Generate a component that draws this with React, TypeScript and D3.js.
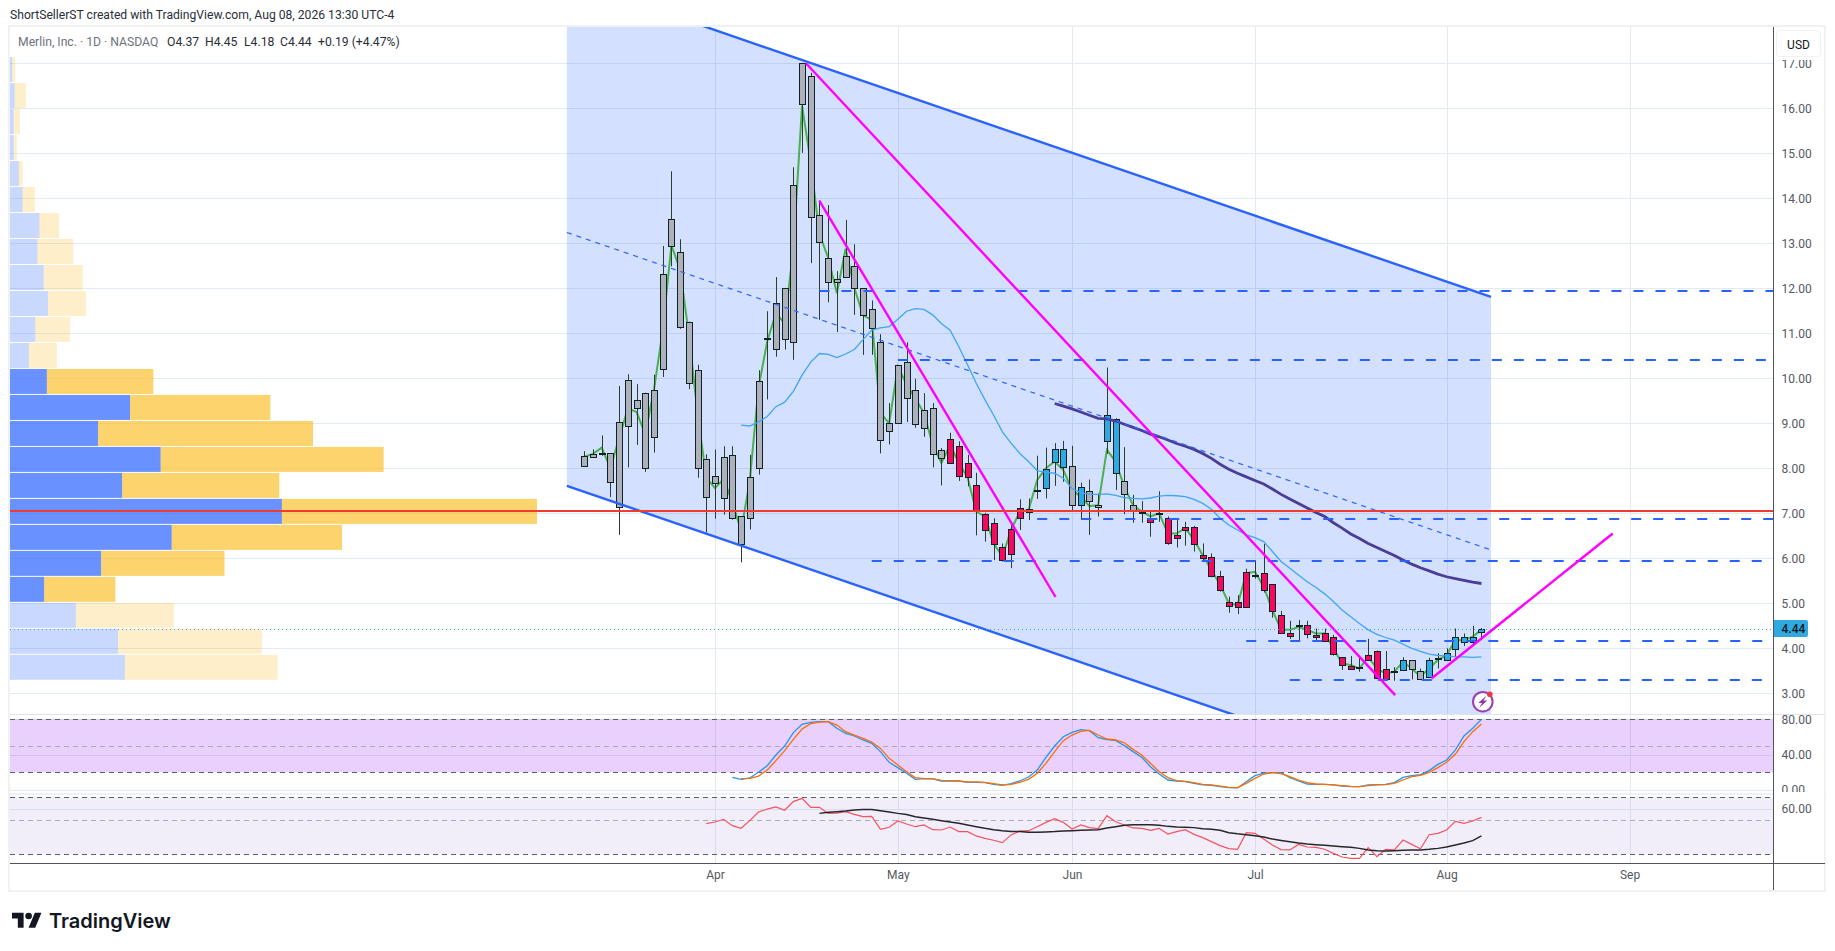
import * as d3 from 'd3';
import {useEffect, useRef} from 'react';

const width = 1835;
const height = 951;

// one entry per trading day, Mar 11 .. Aug 7
const highs = [8.38,8.42,8.73,8.34,9.83,10.09,9.87,9.68,10.08,12.94,14.6,13.09,11.26,10.3,8.31,8.42,8.49,8.49,6.93,8.3,10.18,11.49,12.25,12.0,14.69,17.01,16.79,13.95,13.85,12.38,13.52,12.98,12.0,11.73,10.98,9.45,10.29,10.8,9.99,9.67,9.45,8.45,8.79,8.6,8.3,7.9,7.01,6.89,6.33,6.74,7.31,7.33,8.28,8.46,8.56,8.61,8.5,7.68,7.75,7.44,10.24,9.11,8.47,7.41,7.27,7.07,7.49,6.93,6.87,6.81,6.72,6.33,6.11,5.72,5.15,5.18,5.77,5.96,6.32,5.42,4.83,4.61,4.63,4.61,4.44,4.44,4.3,3.8,3.83,3.81,4.21,3.95,3.94,3.58,3.8,3.74,3.55,3.79,3.89,4.0,4.44,4.33,4.5,4.45];
const lows = [8.06,8.25,8.28,7.36,6.52,8.02,8.52,7.92,8.35,10.03,12.49,11.1,9.76,7.79,6.57,6.88,6.97,6.86,5.91,6.64,7.86,9.53,10.48,10.64,10.41,15.01,12.56,11.3,11.69,11.03,12.26,11.41,10.52,10.52,8.33,8.53,9.0,9.03,8.9,8.7,8.02,7.62,8.11,7.72,7.6,6.51,6.37,5.96,5.93,5.78,6.63,6.85,7.32,7.33,7.61,7.7,7.04,6.85,6.52,6.93,8.32,7.52,6.98,6.79,6.79,6.48,6.81,6.3,6.24,6.28,6.15,5.96,5.58,5.26,4.79,4.76,4.91,5.55,5.24,4.68,4.35,4.21,4.16,4.22,4.15,4.16,3.84,3.52,3.52,3.48,3.75,3.33,3.28,3.28,3.5,3.31,3.3,3.34,3.55,3.72,3.81,4.05,4.05,4.18];
const bodyTops = [8.28,8.31,8.34,8.34,9.02,9.97,9.51,9.68,9.75,12.31,13.55,12.8,11.26,10.18,8.2,7.84,8.26,8.29,6.93,7.81,9.93,10.89,11.67,12.0,14.29,17.0,16.71,13.64,12.68,12.2,12.72,12.49,12.0,11.55,10.81,9.0,10.29,10.37,9.75,9.3,9.33,8.4,8.66,8.49,8.12,7.64,6.98,6.78,6.24,6.64,7.11,7.09,7.51,7.99,8.44,8.44,8.06,7.59,7.5,7.18,9.19,9.1,7.71,7.19,7.03,6.9,7.01,6.9,6.52,6.69,6.69,6.07,6.04,5.61,5.04,5.04,5.69,5.64,5.67,5.42,4.73,4.35,4.51,4.51,4.3,4.33,4.24,3.8,3.6,3.58,3.85,3.93,3.53,3.49,3.73,3.73,3.5,3.73,3.78,3.89,4.24,4.24,4.24,4.44];
const bodyBottoms = [8.06,8.26,8.32,7.69,7.15,8.93,9.34,8.0,8.69,10.2,12.95,11.15,9.89,8.0,7.36,7.67,7.34,6.9,6.31,6.89,8.0,10.87,10.64,10.87,10.8,16.09,13.58,13.04,12.14,12.13,12.26,12.0,11.4,11.11,8.62,8.82,9.0,9.56,8.98,8.89,8.31,8.22,8.11,7.83,7.8,7.06,6.62,6.31,5.97,6.09,6.9,7.02,7.49,7.57,8.13,8.04,7.18,7.18,7.27,7.13,8.6,7.89,7.42,7.04,7.01,6.81,6.99,6.35,6.46,6.62,6.31,6.0,5.61,5.29,4.95,4.91,4.91,5.62,5.29,4.82,4.35,4.28,4.5,4.31,4.24,4.17,3.88,3.64,3.55,3.56,3.75,3.33,3.31,3.47,3.51,3.55,3.31,3.36,3.76,3.73,3.98,4.15,4.15,4.37];

// candle colouring comes in runs: grey, pink, blue
const toneRuns: [string, number][] = [['g',42],['p',10],['b',4],['g',1],['b',1],['g',2],['b',2],['g',3],['p',1],['g',1],['p',27],['b',1],['g',2],['b',7]];
const toneColors: Record<string, string> = {g: '#aeb1b9', p: '#f50a5e', b: '#2fa9e0'};

const fastLine = [8.26,8.32,8.46,8.0,8.68,9.33,9.25,8.76,9.75,11.06,12.96,12.41,10.98,9.23,7.8,7.56,7.76,7.25,6.61,7.72,9.79,10.82,11.45,11.22,12.88,16.06,14.79,13.2,12.68,11.89,12.88,12.01,11.4,11.3,9.23,9.0,10.26,9.87,9.55,9.23,8.52,8.12,8.52,8.12,7.8,7.04,6.93,6.33,6.04,6.63,7.04,7.07,7.74,8.0,8.15,7.96,7.52,7.37,7.16,7.18,8.41,8.15,7.59,7.18,7.04,6.93,7.0,6.55,6.55,6.67,6.41,6.07,5.74,5.41,5.0,4.96,5.67,5.7,5.37,4.85,4.41,4.41,4.47,4.41,4.33,4.33,4.0,3.66,3.63,3.55,3.81,3.55,3.44,3.48,3.7,3.55,3.37,3.55,3.74,3.85,4.18,4.18,4.26,4.41];
const midLineStart = 18;
const midLine = [8.96,8.94,9.03,9.15,9.37,9.47,9.71,10.07,10.36,10.55,10.53,10.46,10.54,10.64,10.86,11.07,11.12,11.15,11.31,11.49,11.55,11.53,11.41,11.22,11.07,10.7,10.3,9.89,9.52,9.18,8.81,8.56,8.33,8.15,7.95,7.91,7.89,7.78,7.55,7.46,7.42,7.42,7.43,7.4,7.35,7.33,7.32,7.34,7.38,7.4,7.39,7.37,7.31,7.22,7.09,6.89,6.74,6.63,6.52,6.46,6.37,6.15,5.93,5.78,5.63,5.48,5.35,5.21,5.04,4.85,4.7,4.55,4.41,4.31,4.24,4.18,4.09,4.0,3.93,3.87,3.84,3.83,3.81,3.81,3.8,3.81];
const slowLineStart = 54;
const slowLine = [9.44,9.38,9.32,9.25,9.18,9.11,9.1,9.05,8.98,8.91,8.84,8.76,8.7,8.63,8.55,8.49,8.42,8.33,8.22,8.09,7.98,7.89,7.81,7.73,7.65,7.54,7.42,7.32,7.22,7.12,7.02,6.93,6.79,6.67,6.54,6.44,6.33,6.24,6.15,6.06,5.96,5.87,5.79,5.72,5.65,5.59,5.55,5.51,5.47,5.44];

const stochKStart = 17;
const stochK = [14.3,12.1,13.6,20.0,27.5,39.6,49.8,64.9,74.3,76.5,77.3,77.3,69.8,64.1,61.1,56.6,52.8,43.4,31.3,25.3,18.9,12.1,12.8,12.5,10.2,10.2,10.2,8.7,8.7,8.3,6.4,5.3,7.2,10.2,14.7,22.6,37.0,49.8,60.3,65.2,68.2,67.1,59.2,56.9,56.2,50.2,43.4,37.0,26.4,18.1,11.3,10.2,9.4,7.5,5.7,5.3,3.8,2.6,2.3,9.4,16.2,19.2,19.6,19.6,13.9,10.2,6.8,6.4,6.4,5.7,4.5,3.8,3.8,5.7,6.0,6.4,8.3,14.3,16.2,17.3,21.9,29.0,33.9,45.2,61.1,69.8,79.9];
const stochDStart = 18;
const stochD = [12.8,13.2,15.8,22.6,33.2,44.5,57.3,69.0,75.0,76.9,77.3,73.5,66.0,62.2,58.4,54.3,47.1,35.8,28.3,20.7,14.0,12.8,12.8,10.9,10.6,10.2,9.1,9.1,8.7,7.2,5.7,6.4,8.7,12.1,18.9,30.2,43.4,55.8,62.2,66.4,67.5,62.2,57.7,56.6,53.5,46.0,39.6,30.2,20.7,14.0,10.6,9.8,8.3,6.4,5.7,4.5,3.0,2.6,7.5,13.2,18.1,19.6,18.5,15.1,11.3,8.3,6.8,6.4,5.7,4.9,4.2,3.8,4.9,5.7,6.0,7.5,11.3,15.1,16.6,20.0,25.3,31.3,40.4,54.7,66.0,74.7];

const rsiStart = 14;
const rsi = [46.9,48.3,50.7,45.1,42.8,49.5,57.1,59.7,61.5,58.6,66.2,69.1,61.2,61.2,55.9,56.2,57.4,55.0,53.0,53.3,41.9,43.7,49.2,46.6,44.2,45.7,41.6,41.3,43.9,39.9,39.9,36.1,34.0,32.3,30.2,37.0,40.4,40.7,44.2,48.0,51.3,48.0,42.2,45.7,43.4,42.5,53.9,48.6,45.7,43.1,42.8,41.0,42.8,37.8,39.9,41.6,37.5,34.6,31.1,27.6,25.0,24.3,39.0,38.4,33.4,28.2,24.1,23.8,28.7,26.4,26.1,24.4,20.8,17.6,16.5,16.5,25.8,17.9,24.4,23.8,32.5,28.7,24.9,37.2,38.4,41.3,48.9,47.2,49.2,52.4];
const rsiMaStart = 27;
const rsiMa = [55.9,56.8,57.4,58.0,58.9,59.4,59.4,58.3,57.1,55.9,55.0,53.0,51.8,50.7,49.5,48.3,47.2,45.7,44.2,42.8,41.6,40.7,40.1,39.9,39.3,39.3,39.6,39.9,40.4,40.7,41.0,41.3,41.6,43.1,44.2,45.4,46.0,46.0,46.0,45.4,44.5,43.9,43.7,43.4,42.5,41.9,41.0,39.0,38.0,37.2,36.3,35.2,33.4,32.2,31.1,29.9,29.0,28.4,27.9,27.3,26.7,26.1,25.2,23.8,23.2,22.9,23.2,23.5,23.8,23.8,24.4,25.2,26.4,28.2,29.9,32.0,36.1];

// volume profile, top row first, as % of the biggest row
const profileHigh = 17.16;
const profileBin = 0.5775;
const upVolume = [0.4,0.9,0.7,0.7,1.7,2.4,5.6,5.2,6.4,7.2,4.8,3.6,7.0,22.8,16.7,28.6,21.3,51.6,30.7,17.3,6.5,12.5,20.5,21.8];
const downVolume = [0.6,2.1,1.2,0.6,0.7,2.3,3.7,6.8,7.4,7.2,6.6,5.3,20.2,26.6,40.8,42.3,29.8,48.4,32.3,23.4,13.5,18.6,27.3,29.0];
const valueAreaRows = [12, 20];

const priceTicks = d3.range(3, 18);
const stochTicks = [0, 40, 80];
const stochBands = [80, 20];
const stochMid = 50;
const rsiTicks = [60];
const rsiBands = [70, 20];
const rsiMid = 50;
const monthLabels = ['Apr', 'May', 'Jun', 'Jul', 'Aug', 'Sep'];
const monthBars = [15, 36, 56, 77, 99, 120];

// trend tool anchors: [bar, price]
const channelStartBar = -2;
const channelEndBar = 104.1;
const channelUpper = [18.87, 11.81];
const channelLower = [7.61, 0.56];
const pinkLines = [
    [[25.45, 17.0], [93.1, 2.96]],
    [[26.98, 13.95], [54.1, 5.14]],
    [[97.26, 3.33], [118.07, 6.55]],
];
const levelPrices = [11.94, 10.41, 6.87, 5.94, 4.16, 3.3];
const levelStarts = [27, 36, 52, 33, 76, 81];
const pocPrice = 7.05;
const lastPrice = 4.44;

const legendBits = [
    {x: 18, text: 'Merlin, Inc. · 1D · NASDAQ', fill: '#6f727c'},
    {x: 167, text: 'O4.37', fill: '#2a2e39'},
    {x: 205, text: 'H4.45', fill: '#2a2e39'},
    {x: 244, text: 'L4.18', fill: '#2a2e39'},
    {x: 280, text: 'C4.44', fill: '#2a2e39'},
    {x: 318, text: '+0.19 (+4.47%)', fill: '#2a2e39'},
];

const uiFont = 'Roboto, "Open Sans", sans-serif';

export default function App() {
    const ref = useRef<SVGSVGElement>(null);

    useEffect(() => {
        const svg = d3.select(ref.current);
        svg.selectAll('*').remove();

        const left = 10;
        const right = 1773.5;
        const outer = 1825;
        const paneTop = 27;
        const paneBottom = 714;
        const rsiPaneTop = 793.5;
        const timeLine = 863.5;
        const frameBottom = 890;

        const x = d3.scaleLinear().domain([0, 120]).range([584.3, 1629.5]);
        const y = d3.scaleLinear().domain([17, 3]).range([63.3, 693.3]);
        const stochY = d3.scaleLinear().domain([0, 80]).range([790, 719.3]);
        const rsiY = d3.scaleLinear().domain([20, 70]).range([854.3, 797.3]);
        const volX = d3.scaleLinear().domain([0, 100]).range([0, 527]);

        const defs = svg.append('defs');
        defs.append('clipPath').attr('id', 'main-pane').append('rect')
            .attr('x', left).attr('y', paneTop).attr('width', right - left).attr('height', paneBottom - paneTop);

        svg.append('rect').attr('width', width).attr('height', height).attr('fill', '#fff');

        // frame
        svg.append('rect').attr('x', 9).attr('y', 26).attr('width', 816).attr('height', 865)
            .attr('width', outer - 9).attr('fill', 'none').attr('stroke', '#f0f1f3').attr('stroke-width', 2);

        const grid = svg.append('g').attr('stroke', '#e3ebf2').attr('stroke-width', 1);
        const hLine = (yy: number) => grid.append('line')
            .attr('x1', left).attr('x2', right).attr('y1', Math.round(yy) + 0.5).attr('y2', Math.round(yy) + 0.5);
        priceTicks.forEach((t) => hLine(y(t)));
        stochTicks.forEach((t) => hLine(stochY(t)));
        rsiTicks.forEach((t) => hLine(rsiY(t)));
        monthBars.forEach((b) => {
            const vx = Math.round(x(b)) + 0.5;
            grid.append('line').attr('x1', vx).attr('x2', vx).attr('y1', paneTop).attr('y2', timeLine);
        });

        // volume profile
        const rowHeight = y(profileHigh - profileBin) - y(profileHigh);
        const profile = svg.append('g');
        upVolume.forEach((up, i) => {
            const inside = i >= valueAreaRows[0] && i <= valueAreaRows[1];
            const top = y(profileHigh - i * profileBin) + 1;
            profile.append('rect').attr('x', left).attr('y', top).attr('width', volX(up)).attr('height', rowHeight - 1)
                .attr('fill', '#2962ff').attr('fill-opacity', inside ? 0.7 : 0.25);
            profile.append('rect').attr('x', left + volX(up)).attr('y', top).attr('width', volX(downVolume[i])).attr('height', rowHeight - 1)
                .attr('fill', '#fbc02d').attr('fill-opacity', inside ? 0.7 : 0.25);
        });

        const main = svg.append('g').attr('clip-path', 'url(#main-pane)');

        // channel
        const midStart = (channelUpper[0] + channelLower[0]) / 2;
        const midEnd = (channelUpper[1] + channelLower[1]) / 2;
        const channelArea = d3.line<number[]>().x((d) => x(d[0])).y((d) => y(d[1]));
        main.append('path')
            .attr('d', channelArea([
                [channelStartBar, channelUpper[0]], [channelEndBar, channelUpper[1]],
                [channelEndBar, channelLower[1]], [channelStartBar, channelLower[0]],
            ]) + 'Z')
            .attr('fill', '#2962ff').attr('fill-opacity', 0.2);

        const seriesLine = (start: number, scale: d3.ScaleLinear<number, number>) =>
            d3.line<number>().x((_, i) => x(start + i)).y((d) => scale(d));

        main.append('path').attr('d', seriesLine(0, y)(fastLine))
            .attr('fill', 'none').attr('stroke', '#4caf50').attr('stroke-width', 2);

        // candles
        const tones = toneRuns.flatMap(([t, n]) => d3.range(n).map(() => t));
        const candles = main.append('g');
        highs.forEach((h, i) => {
            const cx = Math.round(x(i)) + 0.5;
            candles.append('line').attr('x1', cx).attr('x2', cx).attr('y1', y(h)).attr('y2', y(lows[i]))
                .attr('stroke', '#2c3f26').attr('stroke-width', 1);
            const top = Math.round(y(bodyTops[i])) + 0.5;
            const bottom = Math.round(y(bodyBottoms[i])) + 0.5;
            candles.append('rect').attr('x', cx - 3).attr('y', top).attr('width', 6).attr('height', Math.max(bottom - top, 1))
                .attr('fill', toneColors[tones[i]]).attr('stroke', '#0f2226').attr('stroke-width', 1);
        });

        main.append('path').attr('d', seriesLine(midLineStart, y)(midLine))
            .attr('fill', 'none').attr('stroke', '#3ea6f2').attr('stroke-width', 1.3);
        main.append('path').attr('d', seriesLine(slowLineStart, y)(slowLine))
            .attr('fill', 'none').attr('stroke', '#4a3d96').attr('stroke-width', 2.8);

        // drawings
        main.append('line').attr('x1', x(channelStartBar)).attr('x2', x(channelEndBar))
            .attr('y1', y(midStart)).attr('y2', y(midEnd))
            .attr('stroke', '#2962ff').attr('stroke-width', 1.2).attr('stroke-dasharray', '5 5');
        [channelUpper, channelLower].forEach((c) => {
            main.append('line').attr('x1', x(channelStartBar)).attr('x2', x(channelEndBar))
                .attr('y1', y(c[0])).attr('y2', y(c[1]))
                .attr('stroke', '#2962ff').attr('stroke-width', 2.4);
        });
        levelPrices.forEach((p, i) => {
            main.append('line').attr('x1', x(levelStarts[i])).attr('x2', right)
                .attr('y1', Math.round(y(p))).attr('y2', Math.round(y(p)))
                .attr('stroke', '#2962ff').attr('stroke-width', 2).attr('stroke-dasharray', '10 12');
        });
        pinkLines.forEach(([a, b]) => {
            main.append('line').attr('x1', x(a[0])).attr('y1', y(a[1])).attr('x2', x(b[0])).attr('y2', y(b[1]))
                .attr('stroke', '#ff00ff').attr('stroke-width', 2.4);
        });
        main.append('line').attr('x1', left).attr('x2', right).attr('y1', y(pocPrice)).attr('y2', y(pocPrice))
            .attr('stroke', '#f23b30').attr('stroke-width', 2);
        main.append('line').attr('x1', left).attr('x2', right).attr('y1', Math.round(y(lastPrice)) + 0.5).attr('y2', Math.round(y(lastPrice)) + 0.5)
            .attr('stroke', '#2fa9e0').attr('stroke-width', 1).attr('stroke-dasharray', '1 3');

        // bolt badge
        const badgeX = x(103.1) + 0.5;
        const badgeY = 701.7;
        const badge = svg.append('g').attr('transform', `translate(${badgeX},${badgeY})`);
        badge.append('circle').attr('r', 9.8).attr('fill', '#fff').attr('stroke', '#9c3fb5').attr('stroke-width', 2);
        badge.append('path').attr('d', 'M3.5-6 L-4.5 1.2 L-0.8 1.2 L-3.5 6 L4.5-1.2 L0.8-1.2 Z').attr('fill', '#8e3aa8');
        badge.append('circle').attr('cx', 7).attr('cy', -7.4).attr('r', 2.8).attr('fill', '#f23645');

        // stochastic pane
        const stoch = svg.append('g');
        stoch.append('rect').attr('x', left).attr('width', right - left)
            .attr('y', stochY(stochBands[0])).attr('height', stochY(stochBands[1]) - stochY(stochBands[0]))
            .attr('fill', 'rgb(144,20,245)').attr('fill-opacity', 0.2);
        const dashed = (g: d3.Selection<SVGGElement, unknown, null, undefined>, yy: number, color: string) =>
            g.append('line').attr('x1', left).attr('x2', right).attr('y1', Math.round(yy) + 0.5).attr('y2', Math.round(yy) + 0.5)
                .attr('stroke', color).attr('stroke-width', 1).attr('stroke-dasharray', '5 4');
        stochBands.forEach((b) => dashed(stoch as any, stochY(b), '#5d606b'));
        dashed(stoch as any, stochY(stochMid), '#a9acb6');
        stoch.append('path').attr('d', seriesLine(stochKStart, stochY)(stochK))
            .attr('fill', 'none').attr('stroke', '#2196f3').attr('stroke-width', 1.3);
        stoch.append('path').attr('d', seriesLine(stochDStart, stochY)(stochD))
            .attr('fill', 'none').attr('stroke', '#ff6d00').attr('stroke-width', 1.3);

        // rsi pane
        const rsiPane = svg.append('g');
        rsiPane.append('rect').attr('x', left).attr('width', right - left)
            .attr('y', rsiY(rsiBands[0])).attr('height', rsiY(rsiBands[1]) - rsiY(rsiBands[0]))
            .attr('fill', 'rgb(126,87,194)').attr('fill-opacity', 0.1);
        rsiBands.forEach((b) => dashed(rsiPane as any, rsiY(b), '#5d606b'));
        dashed(rsiPane as any, rsiY(rsiMid), '#a9acb6');
        rsiPane.append('path').attr('d', seriesLine(rsiStart, rsiY)(rsi))
            .attr('fill', 'none').attr('stroke', '#f7525f').attr('stroke-width', 1.2);
        rsiPane.append('path').attr('d', seriesLine(rsiMaStart, rsiY)(rsiMa))
            .attr('fill', 'none').attr('stroke', '#26262b').attr('stroke-width', 1.5);

        // separators + axes
        [paneBottom, rsiPaneTop].forEach((yy) => {
            svg.append('line').attr('x1', left).attr('x2', outer).attr('y1', yy + 0.5).attr('y2', yy + 0.5)
                .attr('stroke', '#e0e3eb').attr('stroke-width', 1);
        });
        svg.append('line').attr('x1', left).attr('x2', outer).attr('y1', timeLine).attr('y2', timeLine)
            .attr('stroke', '#50535e').attr('stroke-width', 1);
        svg.append('line').attr('x1', right).attr('x2', right).attr('y1', paneTop).attr('y2', frameBottom)
            .attr('stroke', '#50535e').attr('stroke-width', 1);

        const styleAxis = (g: d3.Selection<SVGGElement, unknown, null, undefined>) => {
            g.select('.domain').remove();
            g.selectAll('text').attr('fill', '#555862').attr('font-family', uiFont).attr('font-size', 12);
        };
        const axisFormat = d3.format('.2f');
        const priceAxis = d3.axisRight(y).tickValues(priceTicks).tickFormat((d) => axisFormat(+d)).tickSize(0).tickPadding(8);
        svg.append('g').attr('transform', `translate(${right},0)`).call(priceAxis as any).call(styleAxis as any);
        const stochAxis = d3.axisRight(stochY).tickValues(stochTicks).tickFormat((d) => axisFormat(+d)).tickSize(0).tickPadding(8);
        svg.append('g').attr('transform', `translate(${right},0)`).call(stochAxis as any).call(styleAxis as any);
        const rsiAxis = d3.axisRight(rsiY).tickValues(rsiTicks).tickFormat((d) => axisFormat(+d)).tickSize(0).tickPadding(8);
        svg.append('g').attr('transform', `translate(${right},0)`).call(rsiAxis as any).call(styleAxis as any);

        const timeAxis = d3.axisBottom(x).tickValues(monthBars).tickFormat((_, i) => monthLabels[i]).tickSize(0).tickPadding(7);
        svg.append('g').attr('transform', `translate(0,${timeLine})`).call(timeAxis as any).call(styleAxis as any);

        // mask over the half hidden axis labels
        svg.append('rect').attr('x', right + 1).attr('y', 792).attr('width', outer - right - 2).attr('height', 3).attr('fill', '#fff');
        svg.append('rect').attr('x', right + 3).attr('y', 30.5).attr('width', 44).attr('height', 26).attr('rx', 3)
            .attr('fill', '#fff').attr('stroke', '#f0f1f3');
        svg.append('rect').attr('x', right + 3).attr('y', 57).attr('width', 44).attr('height', 3).attr('fill', '#fff');
        svg.append('text').attr('x', right + 25).attr('y', 48.5).attr('text-anchor', 'middle')
            .attr('font-family', uiFont).attr('font-size', 12).attr('fill', '#131722').text('USD');

        // last price tag
        svg.append('path').attr('d', `M${right + 0.5} ${y(lastPrice) - 8.5}h32a2 2 0 0 1 2 2v13a2 2 0 0 1 -2 2h-32z`).attr('fill', '#2fa9e0');
        svg.append('text').attr('x', right + 8).attr('y', y(lastPrice) + 4.5)
            .attr('font-family', uiFont).attr('font-size', 12).attr('font-weight', 500).attr('fill', '#131722').text(axisFormat(lastPrice));

        // titles
        svg.append('text').attr('x', 10).attr('y', 19).attr('font-family', uiFont).attr('font-size', 12.15)
            .attr('fill', '#2a2e39').text('ShortSellerST created with TradingView.com, Aug 08, 2026 13:30 UTC-4');
        legendBits.forEach((b) => {
            svg.append('text').attr('x', b.x).attr('y', 46).attr('font-family', uiFont).attr('font-size', 12.2)
                .attr('fill', b.fill).text(b.text);
        });

        // logo
        const logo = svg.append('g').attr('transform', 'translate(12,909.4) scale(0.83)').attr('fill', '#131722');
        logo.append('path').attr('d', 'M14 22H7V11H0V4h14v18zM28 22h-8l7.5-18h8L28 22z');
        logo.append('circle').attr('cx', 20).attr('cy', 8).attr('r', 4);
        svg.append('text').attr('x', 49).attr('y', 928).attr('font-family', 'Inter, Roboto, sans-serif')
            .attr('font-size', 20).attr('font-weight', 600).attr('fill', '#131722').text('TradingView');
    }, []);

    return (
        <svg ref={ref} width={width} height={height}
            style={{position: 'absolute', left: 0, top: 0, display: 'block'}} />
    );
}
